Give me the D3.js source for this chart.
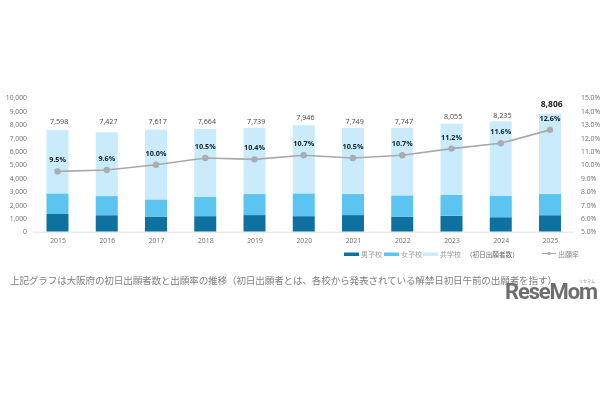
<!DOCTYPE html>
<html>
<head>
<meta charset="utf-8">
<style>
 body { margin: 0; background: #fff; }
 svg { display: block; filter: blur(0.3px); }
 text { font-family: "Open Sans", "Noto Sans CJK JP", sans-serif; }
</style>
<script src="https://cdn.jsdelivr.net/npm/d3@7"></script>
</head>
<body>
<svg id="chart" width="610" height="400"></svg>
<script>
const years = [2015, 2016, 2017, 2018, 2019, 2020, 2021, 2022, 2023, 2024, 2025];
const totals = [7598, 7427, 7617, 7664, 7739, 7946, 7749, 7747, 8055, 8235, 8806];
const boys = [1320, 1230, 1130, 1160, 1240, 1160, 1240, 1130, 1190, 1080, 1230];
const girls = [1540, 1430, 1280, 1430, 1570, 1700, 1570, 1580, 1550, 1610, 1580];
const rates = [9.5, 9.6, 10.0, 10.5, 10.4, 10.7, 10.5, 10.7, 11.2, 11.6, 12.6];
const countTicks = [0, 1000, 2000, 3000, 4000, 5000, 6000, 7000, 8000, 9000, 10000];
const rateTicks = [5, 6, 7, 8, 9, 10, 11, 12, 13, 14, 15];
const seriesKeys = ['boys', 'girls', 'coed'];
const seriesNames = ['男子校', '女子校', '共学校'];
const seriesColors = ['#0f719f', '#5cc4f0', '#c9ebfb'];
const caption = '上記グラフは大阪府の初日出願者数と出願率の推移（初日出願者とは、各校から発表されている解禁日初日午前の出願者を指す）';

const svg = d3.select('#chart');
const top_ = 97.7, bottom = 231.7;

const x = d3.scalePoint().domain(years).range([57.5, 550]);
const y = d3.scaleLinear().domain([0, 10000]).range([bottom, top_]);
const yRate = d3.scaleLinear().domain([5, 15]).range([bottom, top_]);

const rows = years.map((d, i) => ({
    year: d,
    boys: boys[i],
    girls: girls[i],
    coed: totals[i] - boys[i] - girls[i]
}));
const stacked = d3.stack().keys(seriesKeys)(rows);

// bars
svg.selectAll('g.series')
   .data(stacked)
   .enter().append('g')
   .attr('class', 'series')
   .attr('fill', (d, i) => seriesColors[i])
   .selectAll('rect')
   .data(d => d)
   .enter().append('rect')
   .attr('x', d => x(d.data.year) - 11)
   .attr('width', 22)
   .attr('y', d => y(d[1]))
   .attr('height', d => y(d[0]) - y(d[1]));

// axes
const left = d3.axisLeft(y).tickValues(countTicks).tickFormat(d3.format(',')).tickSize(0).tickPadding(0);
const gLeft = svg.append('g').attr('transform', 'translate(27,0)').call(left);
const right = d3.axisRight(yRate).tickValues(rateTicks).tickFormat(d => d.toFixed(1) + '%').tickSize(0).tickPadding(0);
const gRight = svg.append('g').attr('transform', 'translate(581,0)').call(right);
const bottomAxis = d3.axisBottom(x).tickSize(0).tickPadding(0).tickFormat(d3.format('d'));
const gBottom = svg.append('g').attr('transform', 'translate(0,' + (bottom + 6) + ')').call(bottomAxis);
[gLeft, gRight, gBottom].forEach(g => {
    g.select('.domain').remove();
    g.selectAll('text').attr('fill', '#6f6f6f').style('font-size', '6.8px');
});
svg.append('line')
   .attr('x1', 33).attr('x2', 574)
   .attr('y1', bottom + 0.5).attr('y2', bottom + 0.5)
   .attr('stroke', '#e2e2e2');

// rate line
const line = d3.line().x((d, i) => x(years[i])).y(d => yRate(d));
svg.append('path')
   .attr('d', line(rates))
   .attr('fill', 'none')
   .attr('stroke', '#a8a8a8')
   .attr('stroke-width', 1.6);
svg.selectAll('circle.rate')
   .data(rates)
   .enter().append('circle')
   .attr('class', 'rate')
   .attr('cx', (d, i) => x(years[i]))
   .attr('cy', d => yRate(d))
   .attr('r', 3.2)
   .attr('fill', '#a9adb2');

// labels
svg.selectAll('text.rate-label')
   .data(rates)
   .enter().append('text')
   .attr('class', 'rate-label')
   .attr('x', (d, i) => x(years[i]))
   .attr('y', d => yRate(d) - 9)
   .attr('text-anchor', 'middle')
   .attr('fill', '#10202c')
   .style('font-size', '7.2px')
   .style('font-weight', 700)
   .text(d => d.toFixed(1) + '%');

// the total labels were placed by hand in the original, so they don't sit at a fixed gap
const totalLabelBaseline = [124, 124, 124, 124, 123.5, 119.5, 124, 124, 118.5, 118, 107];
svg.selectAll('text.total-label')
   .data(totals)
   .enter().append('text')
   .attr('class', 'total-label')
   .attr('x', (d, i) => x(years[i]) + 1.7)
   .attr('y', (d, i) => totalLabelBaseline[i])
   .attr('text-anchor', 'middle')
   .attr('fill', d => d > 8500 ? '#222' : '#444')
   .style('font-size', d => d > 8500 ? '8.5px' : '7.2px')
   .style('font-weight', d => d > 8500 ? 700 : 400)
   .text(d3.format(','));

// legend
const legendX = [344, 384, 423];
seriesNames.forEach((name, i) => {
    svg.append('rect')
       .attr('x', legendX[i]).attr('y', 252.5)
       .attr('width', 15).attr('height', 3.5)
       .attr('fill', seriesColors[i]);
    svg.append('text')
       .attr('x', legendX[i] + 17).attr('y', 256.5)
       .attr('fill', '#9a9a9a')
       .style('font-size', '7px')
       .text(name);
});
svg.append('text')
   .attr('x', 466).attr('y', 256.5)
   .attr('fill', '#666')
   .style('font-size', '6.6px')
   .text('（初日出願者数）');
svg.append('line')
   .attr('x1', 542).attr('x2', 556).attr('y1', 253.5).attr('y2', 253.5)
   .attr('stroke', '#a6a6a6').attr('stroke-width', 1);
svg.append('circle').attr('cx', 549).attr('cy', 253.5).attr('r', 1.6).attr('fill', '#a6a6a6');
svg.append('text')
   .attr('x', 558).attr('y', 256.5)
   .attr('fill', '#8a8a8a')
   .style('font-size', '7px')
   .text('出願率');

// caption
svg.append('text')
   .attr('x', 10).attr('y', 284)
   .attr('fill', '#808080')
   .attr('textLength', 547)
   .style('font-size', '9.6px')
   .text(caption);

// logo
svg.append('text')
   .attr('x', 505).attr('y', 299)
   .attr('fill', '#6e6e6e')
   .attr('textLength', 93)
   .style('font-family', 'Roboto, sans-serif')
   .style('font-size', '22px')
   .style('font-weight', 700)
   .text('ReseMom');
svg.append('text')
   .attr('x', 579).attr('y', 283)
   .attr('fill', '#8a8a8a')
   .style('font-size', '4px')
   .text('リセマム');
</script>
</body>
</html>
